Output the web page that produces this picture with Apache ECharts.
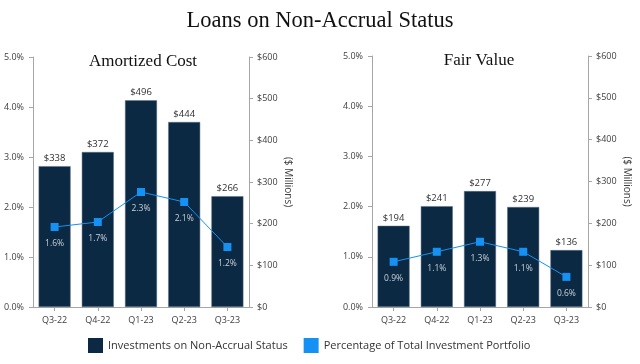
<!DOCTYPE html>
<html><head><meta charset="utf-8">
<script src="https://cdn.jsdelivr.net/npm/echarts@6/dist/echarts.min.js"></script>
<style>html,body{margin:0;padding:0;background:#fff}#c{width:640px;height:364px}</style>
</head><body><div id="c"></div>
<script>
const categories = ['Q3-22','Q4-22','Q1-23','Q2-23','Q3-23'];
const amortizedCost = [338, 372, 496, 444, 266];
const amortizedPct = [1.6, 1.7, 2.3, 2.1, 1.2];
const fairValue = [194, 241, 277, 239, 136];
const fairPct = [0.9, 1.1, 1.3, 1.1, 0.6];

const barColor = '#0b2943';
const lineColor = '#1591f3';
const labelFont = 'Open Sans';
const axisLineStyle = {lineStyle:{color:'#a6a6a6', width:1}};

function pctAxis(gi){
  return {type:'value', gridIndex:gi, min:0, max:5, interval:1, position:'left',
    axisLine:{show:true, ...axisLineStyle}, axisTick:{show:true, length:4, lineStyle:{color:'#a6a6a6'}},
    splitLine:{show:false},
    axisLabel:{formatter:v=>v.toFixed(1)+'%', color:'#404040', fontSize:9, fontFamily:labelFont, margin:9}};
}
function dolAxis(gi){
  return {type:'value', gridIndex:gi, min:0, max:600, interval:100, position:'right',
    name:'($ Millions)', nameLocation:'middle', nameRotate:-90, nameGap:34,
    nameTextStyle:{color:'#404040', fontSize:10, fontFamily:labelFont},
    axisLine:{show:true, ...axisLineStyle}, axisTick:{show:true, length:4, lineStyle:{color:'#a6a6a6'}},
    splitLine:{show:false},
    axisLabel:{formatter:v=>'$'+v, color:'#404040', fontSize:9, fontFamily:labelFont, margin:8}};
}
function xAx(gi){
  return {type:'category', gridIndex:gi, data:categories,
    axisLine:{show:true, ...axisLineStyle}, axisTick:{show:true, alignWithLabel:true, length:4, lineStyle:{color:'#a6a6a6'}},
    axisLabel:{color:'#404040', fontSize:9, fontFamily:labelFont, margin:9}};
}
function bars(name, data, xi, yi){
  return {name, type:'bar', xAxisIndex:xi, yAxisIndex:yi, data, barWidth:'74%',
    itemStyle:{color:barColor, borderColor:'#5d7185', borderWidth:0.5},
    label:{show:true, position:'top', distance:3, formatter:p=>'$'+p.value, color:'#303030', fontSize:9.5, fontFamily:labelFont}};
}
function line(name, data, xi, yi){
  return {name, type:'line', xAxisIndex:xi, yAxisIndex:yi, data, z:5,
    symbol:'rect', symbolSize:8, lineStyle:{color:lineColor, width:1}, itemStyle:{color:lineColor},
    label:{show:true, position:'bottom', distance:8, formatter:p=>p.value.toFixed(1)+'%', color:'#c9d1da', fontSize:8.5, fontFamily:labelFont}};
}

const chart = echarts.init(document.getElementById('c'), null, {renderer:'canvas'});
chart.setOption({
  animation:false,
  backgroundColor:'#fff',
  title:[
    {text:'Loans on Non-Accrual Status', left:'center', top:5, textStyle:{fontFamily:'Liberation Serif', fontWeight:'normal', fontSize:22.5, color:'#111'}},
    {text:'Amortized Cost', left:138, textAlign:'center', top:48, textStyle:{fontFamily:'Liberation Serif', fontWeight:'normal', fontSize:17, color:'#111'}},
    {text:'Fair Value', left:474, textAlign:'center', top:47, textStyle:{fontFamily:'Liberation Serif', fontWeight:'normal', fontSize:17, color:'#111'}}
  ],
  legend:{bottom:6, left:83, itemWidth:15, itemHeight:15, itemGap:16,
    textStyle:{color:'#333', fontSize:11, fontFamily:labelFont},
    data:[{name:'Investments on Non-Accrual Status', icon:'rect', itemStyle:{color:barColor, borderWidth:0}},
          {name:'Percentage of Total Investment Portfolio', icon:'rect', itemStyle:{color:lineColor, borderWidth:0}}]},
  grid:[
    {left:33, right:391, top:57, bottom:57},
    {left:372, right:52, top:56, bottom:57}
  ],
  xAxis:[xAx(0), xAx(1)],
  yAxis:[pctAxis(0), dolAxis(0), pctAxis(1), dolAxis(1)],
  series:[
    bars('Investments on Non-Accrual Status', amortizedCost, 0, 1),
    line('Percentage of Total Investment Portfolio', amortizedPct, 0, 0),
    bars('Investments on Non-Accrual Status', fairValue, 1, 3),
    line('Percentage of Total Investment Portfolio', fairPct, 1, 2)
  ]
});
</script></body></html>
